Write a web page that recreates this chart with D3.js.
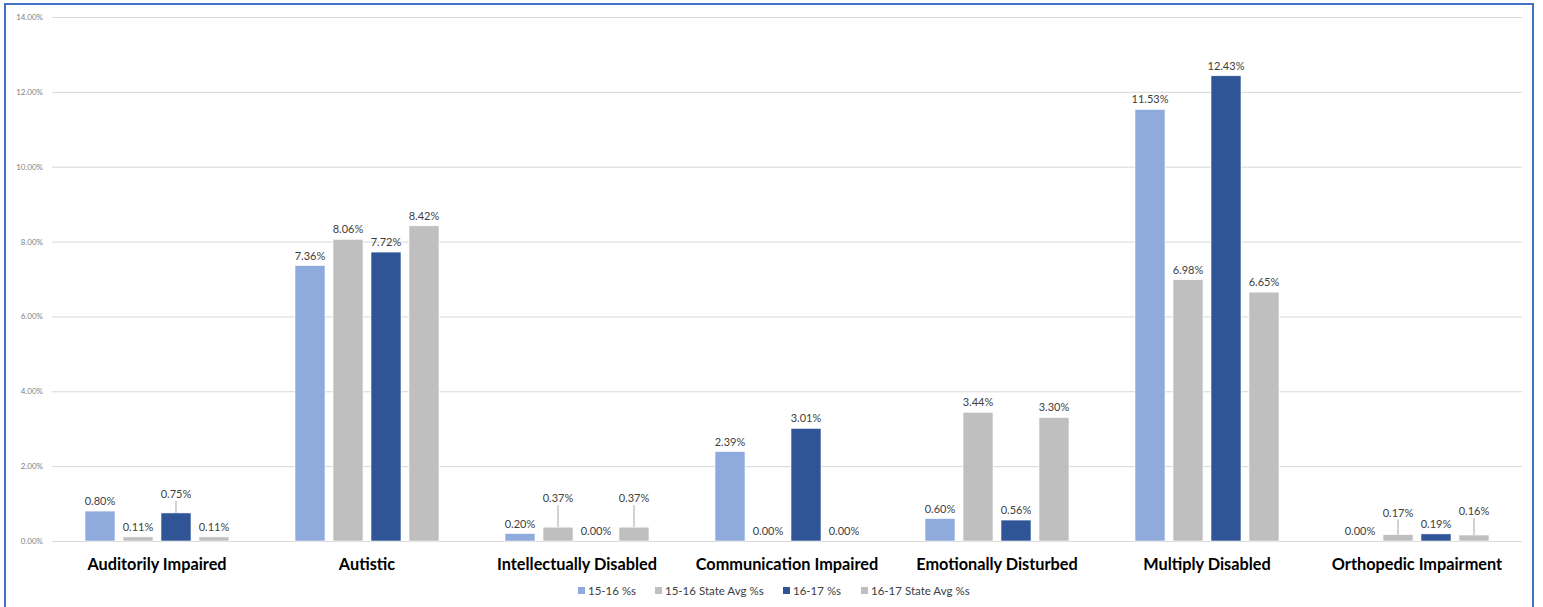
<!DOCTYPE html>
<html><head><meta charset="utf-8">
<script src="https://cdn.jsdelivr.net/npm/d3@7"></script>
<style>body{margin:0;background:#fff}svg{display:block}</style>
</head><body>
<svg id="c" width="1543" height="607"></svg>
<script>
const categories = ["Auditorily Impaired","Autistic","Intellectually Disabled","Communication Impaired","Emotionally Disturbed","Multiply Disabled","Orthopedic Impairment"];
const seriesNames = ["15-16 %s","15-16 State Avg %s","16-17 %s","16-17 State Avg %s"];
const s1516 = [0.80, 7.36, 0.20, 2.39, 0.60, 11.53, 0.00];
const s1516State = [0.11, 8.06, 0.37, 0.00, 3.44, 6.98, 0.17];
const s1617 = [0.75, 7.72, 0.00, 3.01, 0.56, 12.43, 0.19];
const s1617State = [0.11, 8.42, 0.37, 0.00, 3.30, 6.65, 0.16];
const yTicks = [0, 2, 4, 6, 8, 10, 12, 14];
const colors = ["#8FAADC", "#BFBFBF", "#2F5597", "#BFBFBF"];
const seriesValues = [s1516, s1516State, s1617, s1617State];
// labels pulled up with leader lines: key "cat|series" -> extra lift in px
const leader = {"0|2": 9, "2|1": 19, "2|3": 19, "6|1": 12, "6|3": 14};

const svg = d3.select("#c");
const font = "Lato, 'Open Sans', sans-serif";

svg.append("rect").attr("x",5).attr("y",4).attr("width",1528).attr("height",640)
  .attr("fill","#fff").attr("stroke","#4472C4").attr("stroke-width",2);

const x0 = d3.scaleBand().domain(categories).range([52,1522]).paddingInner(0).paddingOuter(0);
const x1 = d3.scaleBand().domain(seriesNames).range([33, 210-33]).paddingInner(0.21).paddingOuter(0);
const y = d3.scaleLinear().domain([0,14]).range([541,17]);

// gridlines
const yAxis = d3.axisLeft(y).tickValues(yTicks).tickSize(-(1522-52)).tickFormat(d => d.toFixed(2)+"%");
const ga = svg.append("g").attr("transform","translate(52,0)").call(yAxis);
ga.select(".domain").remove();
ga.selectAll(".tick line").attr("stroke","#D9D9D9").attr("stroke-width",1);
ga.selectAll(".tick text").attr("x",-9).attr("fill","#7F7F7F").attr("font-size","8px").attr("font-family",font);

const groups = svg.append("g").selectAll("g").data(categories).join("g")
  .attr("transform", d => `translate(${x0(d)},0)`);

groups.each(function(cat, ci){
  const g = d3.select(this);
  seriesNames.forEach((s, si) => {
    const v = seriesValues[si][ci];
    const bx = x1(s), bw = x1.bandwidth();
    if (v > 0) {
      g.append("rect").attr("x",bx).attr("y",y(v)).attr("width",bw).attr("height",y(0)-y(v))
        .attr("fill",colors[si]).attr("stroke","#fff").attr("stroke-width",0.6);
    }
    const lift = leader[ci+"|"+si] || 0;
    const base = y(v) - 6 - lift;
    g.append("text").attr("x",bx+bw/2).attr("y",base).attr("text-anchor","middle")
      .attr("font-size","11px").attr("font-family",font).attr("fill","#404040")
      .text(v.toFixed(2)+"%");
    if (lift) {
      g.append("line").attr("x1",bx+bw/2).attr("x2",bx+bw/2).attr("y1",base+3).attr("y2",y(v))
        .attr("stroke","#A6A6A6").attr("stroke-width",1);
    }
  });
});

// category labels
svg.append("g").selectAll("text").data(categories).join("text")
  .attr("x", d => x0(d)+x0.bandwidth()/2).attr("y",570).attr("text-anchor","middle")
  .attr("font-size","16.3px").attr("font-weight","bold").attr("font-family",font).attr("fill","#000")
  .text(d => d);

// legend
const legendX = [578, 655, 783, 861];
const lg = svg.append("g").selectAll("g").data(seriesNames).join("g")
  .attr("transform",(d,i)=>`translate(${legendX[i]},587)`);
lg.append("rect").attr("width",7).attr("height",7).attr("fill",(d,i)=>colors[i]);
lg.append("text").attr("x",10).attr("y",7.5).attr("font-size","11.5px").attr("font-family",font)
  .attr("fill","#404040").text(d=>d);
</script>
</body></html>
